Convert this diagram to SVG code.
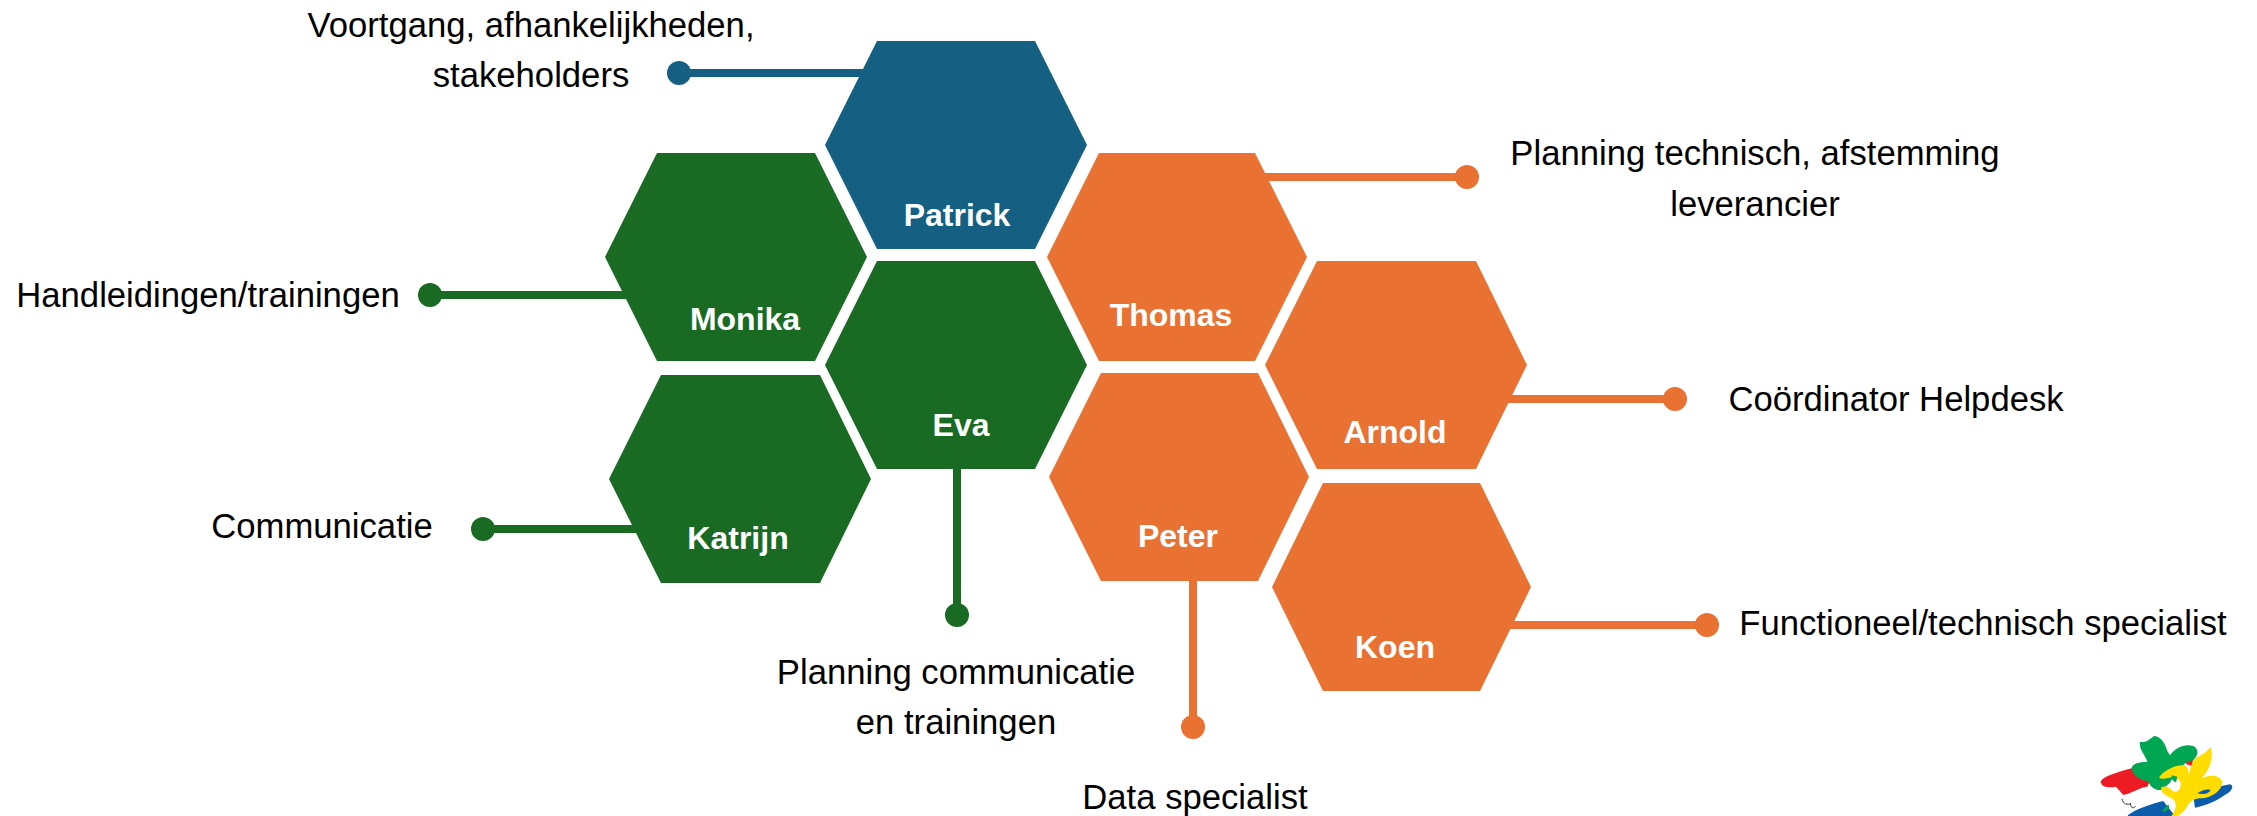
<svg xmlns="http://www.w3.org/2000/svg" width="2257" height="816" viewBox="0 0 2257 816">
<style>
.n{font:bold 32px "Liberation Sans",Arial,sans-serif;fill:#fff;text-anchor:middle}
.l{font:34.67px "Liberation Sans",Arial,sans-serif;fill:#000;text-anchor:middle}
.b{fill:#156082}.g{fill:#196b24}.o{fill:#e97132}
.bs{stroke:#156082}.gs{stroke:#196b24}.os{stroke:#e97132}
#connectors line{stroke-width:8;fill:none}
</style>
<rect width="2257" height="816" fill="#fff"/>
<g id="connectors">
<line class="bs" x1="678" y1="73" x2="880" y2="73"/><circle class="b" cx="679" cy="73" r="12"/>
<line class="gs" x1="430" y1="295" x2="640" y2="295"/><circle class="g" cx="430" cy="295" r="12"/>
<line class="gs" x1="483" y1="529" x2="650" y2="529"/><circle class="g" cx="483" cy="529" r="12"/>
<line class="gs" x1="957" y1="460" x2="957" y2="615"/><circle class="g" cx="957" cy="615" r="12"/>
<line class="os" x1="1240" y1="177" x2="1467" y2="177"/><circle class="o" cx="1467" cy="177" r="12"/>
<line class="os" x1="1480" y1="399" x2="1675" y2="399"/><circle class="o" cx="1675" cy="399" r="12"/>
<line class="os" x1="1193" y1="575" x2="1193" y2="727"/><circle class="o" cx="1193" cy="727" r="12"/>
<line class="os" x1="1490" y1="625" x2="1707" y2="625"/><circle class="o" cx="1707" cy="625" r="12"/>
</g>
<g id="patrick"><polygon class="b" points="877,41 1035,41 1087,145 1035,249 877,249 825,145"/><text class="n" x="957" y="226">Patrick</text></g>
<g id="monika"><polygon class="g" points="657,153 815,153 867,257 815,361 657,361 605,257"/><text class="n" x="745" y="330">Monika</text></g>
<g id="eva"><polygon class="g" points="877,261 1035,261 1087,365 1035,469 877,469 825,365"/><text class="n" x="961" y="436">Eva</text></g>
<g id="katrijn"><polygon class="g" points="661,375 820,375 871,479 820,583 661,583 609,479"/><text class="n" x="738" y="549">Katrijn</text></g>
<g id="thomas"><polygon class="o" points="1099,153 1255,153 1307,257 1255,361 1099,361 1047,257"/><text class="n" x="1171" y="326">Thomas</text></g>
<g id="arnold"><polygon class="o" points="1317,261 1476,261 1527,365 1476,469 1317,469 1265,365"/><text class="n" x="1395" y="443">Arnold</text></g>
<g id="peter"><polygon class="o" points="1101,373 1258,373 1309,477 1258,581 1101,581 1049,477"/><text class="n" x="1178" y="547">Peter</text></g>
<g id="koen"><polygon class="o" points="1323,483 1480,483 1531,587 1480,691 1323,691 1272,587"/><text class="n" x="1395" y="658">Koen</text></g>
<g id="labels">
<text class="l" x="531" y="37">Voortgang, afhankelijkheden,</text>
<text class="l" x="531" y="87">stakeholders</text>
<text class="l" x="208" y="307">Handleidingen/trainingen</text>
<text class="l" x="322" y="538">Communicatie</text>
<text class="l" x="956" y="684">Planning communicatie</text>
<text class="l" x="956" y="734">en trainingen</text>
<text class="l" x="1195" y="809">Data specialist</text>
<text class="l" x="1755" y="165">Planning technisch, afstemming</text>
<text class="l" x="1755" y="216">leverancier</text>
<text class="l" x="1896" y="411">Coördinator Helpdesk</text>
<text class="l" x="1983" y="635">Functioneel/technisch specialist</text>
</g>
<g id="logo" transform="translate(2060,716) scale(.3333)">
<path fill="#ed1c24" d="M122 197C130 180 170 170 215 157L270 195L262 212C235 215 215 232 190 237L168 212C150 216 125 215 122 197Z"/>
<path fill="#ed1c24" d="M375 135L400 130L395 150L380 145Z"/>
<path fill="#0b5cab" d="M203 298C225 280 270 265 310 255L345 300L205 300ZM400 240C440 225 480 210 510 205C525 210 515 228 490 240C470 255 440 268 405 275Z"/>
<path fill="#00a651" d="M240 77C255 82 270 70 282 60C300 60 315 80 322 105L330 118C345 95 375 82 400 90C418 100 415 118 400 132L378 140L345 170L330 200L305 222C285 225 268 210 265 195C240 195 215 175 215 155C220 140 245 138 262 138C258 120 235 100 240 77Z"/>
<path fill="#ffdd00" d="M452 92C462 125 450 160 425 187C445 175 480 175 487 197C488 220 460 245 425 247C405 247 390 255 382 270C375 285 362 295 352 300L334 300C348 285 352 262 340 250C325 240 303 235 303 215C312 208 325 212 335 222C345 232 362 228 362 205C362 192 352 185 340 183C322 185 308 192 297 185C310 165 345 145 372 148C385 152 388 165 383 178C392 165 392 145 402 132C415 118 440 112 452 92Z"/>
<path fill="#00a651" d="M335 178L352 182L348 200L335 190ZM305 285L325 265L328 275L315 288Z"/>
<path fill="#fff" d="M346 200L354 198L356 222L348 225Z"/>
<path fill="#0b5cab" d="M412 232C425 222 445 218 452 222C448 232 430 238 412 232Z"/>
<path fill="none" stroke="#333" stroke-width="3" d="M186 248C188 265 205 268 212 262C210 275 222 280 226 270"/>
</g>
</svg>
